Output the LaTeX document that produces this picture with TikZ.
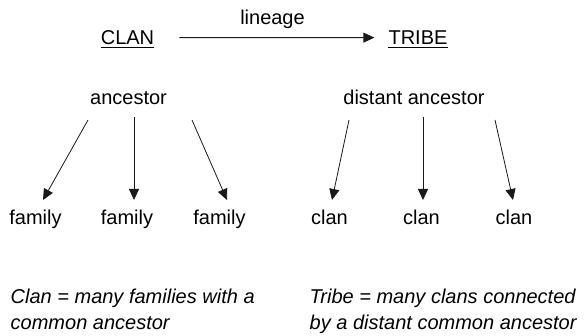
\documentclass[tikz,border=0pt]{standalone}
\usepackage{fontspec}
\setmainfont{Liberation Sans}
\usetikzlibrary{arrows.meta}

\begin{document}
\begin{tikzpicture}[x=1pt,y=1pt,
  lbl/.style={inner sep=0pt, anchor=base, font=\fontsize{20}{24}\selectfont},
  note/.style={inner sep=0pt, anchor=base west, align=left,
               font=\fontsize{20}{26}\selectfont\itshape},
  arr/.style={line width=0.8pt, draw=black!90,
              -{Triangle[length=11pt,width=10pt]}}]
  \useasboundingbox (0,0) rectangle (584,-336);

  % heading row
  \node[lbl] (clan)  at (127.5,-44.5) {CLAN};
  \node[lbl] (tribe) at (418,-44.5) {TRIBE};
  \node[lbl] (lin)   at (272.5,-25) {lineage};
  \draw[line width=1pt] ([yshift=-3pt]clan.base west) -- ([yshift=-3pt]clan.base east);
  \draw[line width=1pt] ([yshift=-3pt]tribe.base west) -- ([yshift=-3pt]tribe.base east);
  \draw[arr, shorten <=25pt, shorten >=14pt] (clan.east) -- (tribe.west);

  % clan: ancestor and families
  \node[lbl] (anc) at (128.5,-105) {ancestor};
  \node[lbl] (f1) at (35.5,-225) {family};
  \node[lbl] (f2) at (127,-225) {family};
  \node[lbl] (f3) at (219.5,-225) {family};
  \draw[arr] ([shift={(-40.5,-15)}]anc.base) -- ([shift={(7.5,25)}]f1.base);
  \draw[arr] ([shift={(5.5,-12)}]anc.base)   -- ([shift={(7,25)}]f2.base);
  \draw[arr] ([shift={(63.5,-15)}]anc.base)  -- ([shift={(7.5,25)}]f3.base);

  % tribe: distant ancestor and clans
  \node[lbl] (dan) at (414,-105) {distant ancestor};
  \node[lbl] (c1) at (329.5,-225) {clan};
  \node[lbl] (c2) at (421.5,-225) {clan};
  \node[lbl] (c3) at (514,-225) {clan};
  \draw[arr] ([shift={(-65,-15)}]dan.base) -- ([shift={(2.5,25)}]c1.base);
  \draw[arr] ([shift={(9,-12)}]dan.base)   -- ([shift={(1.5,25)}]c2.base);
  \draw[arr] ([shift={(81,-15)}]dan.base)  -- ([shift={(-1,25)}]c3.base);

  % definitions (base anchor sits on the last line)
  \node[note] (defclan)  at (10.5,-330) {Clan = many families with a\\common ancestor};
  \node[note] (deftribe) at (309.5,-330) {Tribe = many clans connected\\by a distant common ancestor};
\end{tikzpicture}
\end{document}
